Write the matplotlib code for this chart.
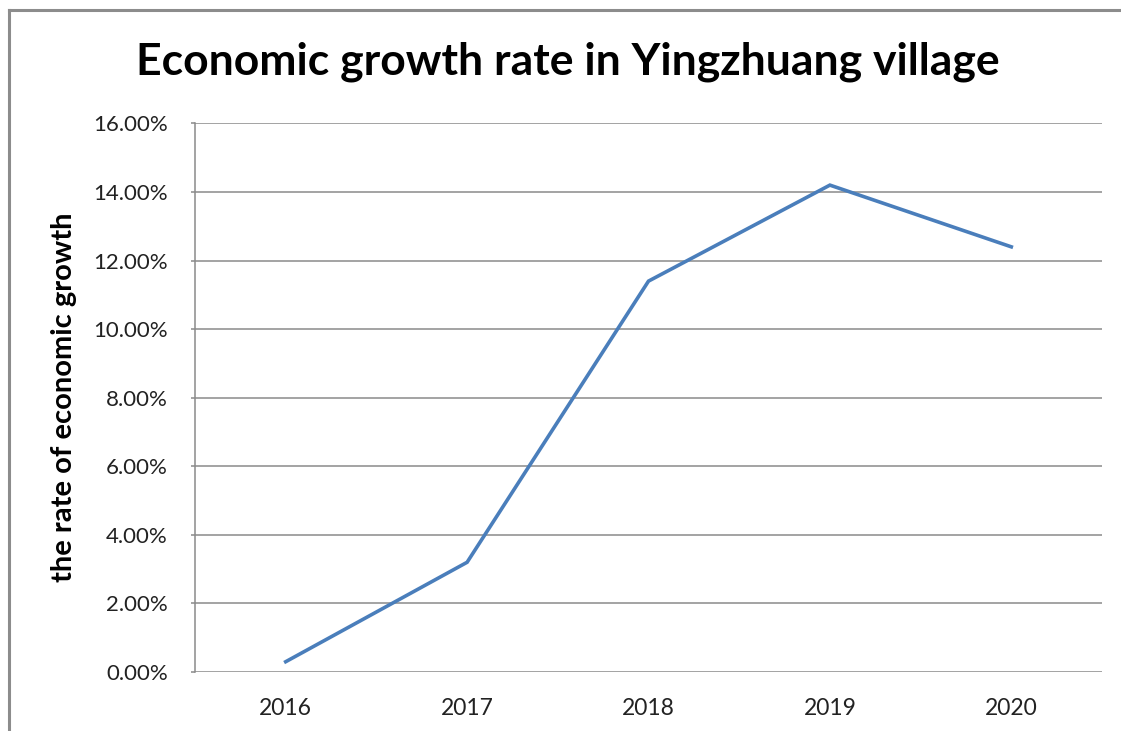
import matplotlib
matplotlib.use("Agg")
import matplotlib.pyplot as plt
from matplotlib.lines import Line2D
from matplotlib.ticker import FuncFormatter

years = ["2016", "2017", "2018", "2019", "2020"]
growth_rate = [0.30, 3.20, 11.40, 14.20, 12.40]
y_ticks = [0, 2, 4, 6, 8, 10, 12, 14, 16]

title = "Economic growth rate in Yingzhuang village"
y_label = "the rate of economic growth"

W, H = 1121, 731
fig = plt.figure(figsize=(W / 100, H / 100), dpi=100)
fig.patch.set_facecolor("white")

font = ["Lato", "DejaVu Sans"]
plt.rcParams["font.family"] = font

# chart frame (top and left edges)
border = "#8c8c8c"
fig.add_artist(Line2D([9 / W, 1.0], [1 - 10 / H, 1 - 10 / H], color=border, lw=2.2,
                      transform=fig.transFigure))
fig.add_artist(Line2D([9 / W, 9 / W], [0.0, 1 - 10 / H], color=border, lw=2.2,
                      transform=fig.transFigure))

left, right = 195 / W, 1102 / W
bottom, top = 1 - 672 / H, 1 - 123.4 / H
ax = fig.add_axes([left, bottom, right - left, top - bottom])

x = list(range(len(years)))
ax.plot(x, growth_rate, color="#4a7ebb", lw=2.6, solid_joinstyle="miter", zorder=3)

ax.set_xlim(-0.5, len(years) - 0.5)
ax.set_ylim(0, 16)
ax.set_yticks(y_ticks)
ax.yaxis.set_major_formatter(FuncFormatter(lambda v, p: f"{v:.2f}%"))
ax.set_xticks(x)
ax.set_xticklabels(years)

ax.grid(axis="y", color="#8a8a8a", lw=1.1)
ax.set_axisbelow(True)
for s in ["top", "right", "bottom"]:
    ax.spines[s].set_visible(False)
ax.spines["left"].set_color("#8a8a8a")
ax.spines["left"].set_linewidth(1.1)

ax.tick_params(axis="y", length=3, color="#8a8a8a", width=1.1, labelsize=16,
               labelcolor="#222222", pad=16.5)
ax.tick_params(axis="x", length=0, labelsize=16.5, labelcolor="#222222", pad=19)

ax.set_ylabel(y_label, fontsize=21, fontweight="bold")
ax.yaxis.set_label_coords(-0.130, 0.5)

fig.text(568 / W, 1 - 62 / H, title, ha="center", va="center",
         fontsize=32, fontweight="bold", color="black")

fig.savefig("out.png", dpi=100, facecolor="white")
